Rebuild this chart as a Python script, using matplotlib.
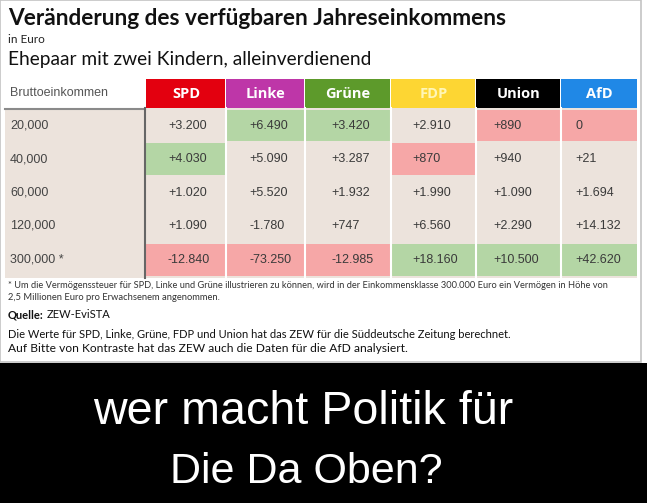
import matplotlib.pyplot as plt
from matplotlib.patches import Rectangle

incomes = ["20,000", "40,000", "60,000", "120,000", "300,000 *"]
parties = ["SPD", "Linke", "Grüne", "FDP", "Union", "AfD"]
spd = [3200, 4030, 1020, 1090, -12840]
linke = [6490, 5090, 5520, -1780, -73250]
gruene = [3420, 3287, 1932, 747, -12985]
fdp = [2910, 870, 1990, 6560, 18160]
union = [890, 940, 1090, 2290, 10500]
afd = [0, 21, 1694, 14132, 42620]
# g = green highlight, r = red highlight, - = plain
marks = ["-g--r", "g---r", "g---r", "-r--g", "r---g", "r---g"]

party_colors = ["#e3000f", "#be36a8", "#5d9a2b", "#fdd633", "#000000", "#2088e6"]
head_text = ["white", "white", "white", "#fff6b8", "white", "white"]
fill = {"-": "#ece3dc", "g": "#b4d6a5", "r": "#f6a7a7"}

W, H = 647, 503
fig = plt.figure(figsize=(W / 100, H / 100), dpi=100)
ax = fig.add_axes([0, 0, 1, 1])
ax.set_xlim(0, W)
ax.set_ylim(H, 0)
ax.axis("off")
renderer = fig.canvas.get_renderer()


def fit_text(x, y, s, width, **kw):
    # scale the font so the string spans the wanted pixel width
    t = ax.text(x, y, s, **kw)
    w = t.get_window_extent(renderer).width
    t.set_fontsize(t.get_fontsize() * width / w)
    return t


# frame of the screenshot
ax.add_patch(Rectangle((0, 0), 641, 362, fc="white", ec="#c4c4c4", lw=1.2))
ax.add_patch(Rectangle((0, 363), W, H - 363, fc="black", ec="none"))

fit_text(8, 18, "Veränderung des verfügbaren Jahreseinkommens", 497,
         family="Lato", weight="bold", fontsize=13, va="center", color="#111111")
ax.text(8, 39, "in Euro", family="Lato", fontsize=8.5, va="center", color="#222222")
fit_text(8, 59, "Ehepaar mit zwei Kindern, alleinverdienend", 364,
         family="Lato", fontsize=11, va="center", color="#111111")

# table geometry
col_x = [146, 226, 305, 391, 476, 561, 637]
pads = [22, 23, 26, 21, 17, 14]
row_y = [110, 143, 177, 210, 244, 278]
head_top, head_bot = 79, 108

ax.add_patch(Rectangle((5, head_bot), 632, row_y[-1] - head_bot, fc=fill["-"], ec="none"))
ax.text(10, 93, "Bruttoeinkommen", family="Liberation Sans", fontsize=9,
        va="center", color="#555555")
ax.plot([5, 145], [109, 109], color="#8a8a8a", lw=1.5)

values = [spd, linke, gruene, fdp, union, afd]
for j, p in enumerate(parties):
    x0, x1 = col_x[j], col_x[j + 1]
    gap = 1 if j < 5 else 0
    ax.add_patch(Rectangle((x0, head_top), x1 - x0 - gap, head_bot - head_top,
                           fc=party_colors[j], ec="none"))
    ax.text((x0 + x1) / 2, 94, p, family="Open Sans", weight="bold", fontsize=10.5,
            ha="center", va="center", color=head_text[j])
    for i, v in enumerate(values[j]):
        y0, y1 = row_y[i], row_y[i + 1]
        m = marks[j][i]
        ax.add_patch(Rectangle((x0, y0), x1 - x0 - gap, y1 - y0 - 2,
                               fc=fill[m], ec="none"))
        s = "0" if v == 0 else f"{v:+,}".replace(",", ".")
        ax.text(x0 + pads[j], (y0 + y1) / 2 - 1, s, family="Liberation Sans",
                fontsize=9, va="center", color="#3a3a3a")
    if j < 5:
        ax.plot([x1 - 0.5, x1 - 0.5], [head_bot, row_y[-1]], color="white", lw=1.5)

for i, lab in enumerate(incomes):
    ax.text(10, (row_y[i] + row_y[i + 1]) / 2 - 1, lab, family="Liberation Sans",
            fontsize=9, va="center", color="#444444")
ax.plot([144.5, 144.5], [head_bot, row_y[-1]], color="#666666", lw=1.5)

# notes
fit_text(8, 286, "* Um die Vermögenssteuer für SPD, Linke und Grüne illustrieren zu können, "
         "wird in der Einkommensklasse 300.000 Euro ein Vermögen in Höhe von", 612,
         family="Lato", fontsize=5, va="center", color="#333333")
fit_text(8, 297, "2,5 Millionen Euro pro Erwachsenem angenommen.", 216,
         family="Lato", fontsize=5, va="center", color="#333333")
werte = fit_text(8, 334, "Die Werte für SPD, Linke, Grüne, FDP und Union hat das ZEW "
                 "für die Süddeutsche Zeitung berechnet.", 504,
                 family="Lato", fontsize=7, va="center", color="#111111")
fs = werte.get_fontsize()
q = ax.text(8, 315, "Quelle:", family="Lato", weight="bold", fontsize=fs,
            va="center", color="#111111")
qx = 8 + q.get_window_extent(renderer).width + 3
ax.text(qx, 315, "ZEW-EviSTA", family="Lato", fontsize=fs, va="center", color="#111111")
fit_text(8, 348, "Auf Bitte von Kontraste hat das ZEW auch die Daten für die AfD analysiert.", 398,
         family="Lato", fontsize=7, va="center", color="#111111")

# caption
fit_text(303, 412, "wer macht Politik für", 420, family="Liberation Sans", fontsize=28,
         ha="center", va="center", color="white")
fit_text(306, 472, "Die Da Oben?", 273, family="Liberation Sans", fontsize=28,
         ha="center", va="center", color="white")

fig.savefig("out.png", dpi=100)
